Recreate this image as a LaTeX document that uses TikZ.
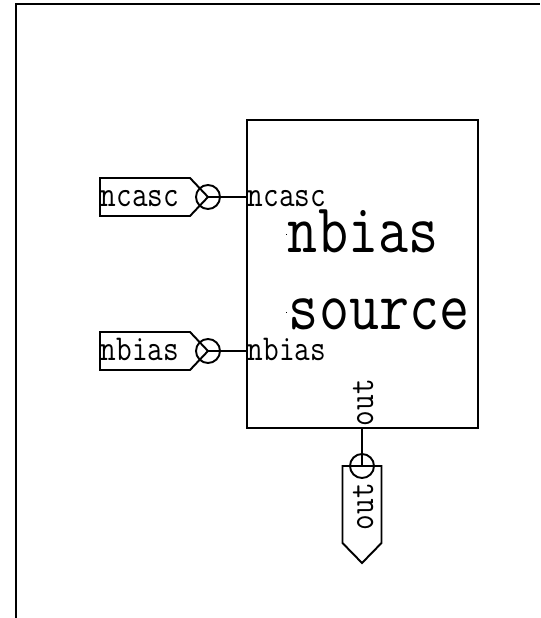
\documentclass[tikz,border=0pt]{standalone}
\usepackage{graphicx}
\newcommand{\talltext}[1]{\scalebox{1}[1.2]{#1}}
\tikzset{
    pinlabel/.style={font=\fontsize{17.3}{20}\selectfont\ttfamily,inner sep=0,anchor=base west},
    titlelabel/.style={font=\fontsize{33.2}{36}\selectfont\ttfamily,inner sep=0,anchor=base west},
    pincircle/.style={draw,circle,inner sep=0,minimum size=0.48cm},
}
\begin{document}
\begin{tikzpicture}[line width=1.1pt]
        \useasboundingbox (0,0) rectangle (10.8,12.36);
        \coordinate (framebottom) at (0.32,0);
        \coordinate (framecorner) at (0.32,12.28);
        \coordinate (frameright) at (10.8,12.28);
        \draw (framebottom) -- (framecorner) -- (frameright);

        \node[draw,minimum width=4.62cm,minimum height=6.16cm,inner sep=0] (source) at (7.25,6.88) {};
        \node[titlelabel] (titlea) at (5.74,7.3) {\talltext{nbias}};
        \node[titlelabel] (titleb) at (5.76,5.76) {\talltext{source}};
        \fill (5.71,7.65) rectangle (5.73,7.67);
        \fill (5.71,6.1) rectangle (5.73,6.12);

        \begin{scope}[shift={(4.16,8.42)}]
            \draw (0,0) -- (-0.36,0.38) -- (-2.16,0.38) -- (-2.16,-0.38) -- (-0.36,-0.38) -- cycle;
            \node[pincircle] (ncascpin) at (0,0) {};
            \node[pinlabel] (ncasctag) at (-2.16,-0.2) {\talltext{ncasc}};
        \end{scope}
        \begin{scope}[shift={(4.16,5.34)}]
            \draw (0,0) -- (-0.36,0.38) -- (-2.16,0.38) -- (-2.16,-0.38) -- (-0.36,-0.38) -- cycle;
            \node[pincircle] (nbiaspin) at (0,0) {};
            \node[pinlabel] (nbiastag) at (-2.16,-0.2) {\talltext{nbias}};
        \end{scope}
        \begin{scope}[shift={(7.24,3.04)}]
            \draw (0,0) -- (-0.39,0) -- (-0.39,-1.54) -- (0,-1.94) -- (0.39,-1.54) -- (0.39,0) -- cycle;
            \node[pincircle] (outpin) at (0,0) {};
            \node[pinlabel,rotate=90] (outtag) at (0.22,-1.3) {\talltext{out}};
        \end{scope}

        \draw (ncascpin.center) -- (ncascpin.center -| source.west);
        \draw (nbiaspin.center) -- (nbiaspin.center -| source.west);
        \draw (outpin.center) -- (outpin.center |- source.south);

        \node[pinlabel] (ncascport) at (4.94,8.22) {\talltext{ncasc}};
        \node[pinlabel] (nbiasport) at (4.94,5.14) {\talltext{nbias}};
        \node[pinlabel,rotate=90] (outport) at (7.46,3.82) {\talltext{out}};
    \end{tikzpicture}
\end{document}
